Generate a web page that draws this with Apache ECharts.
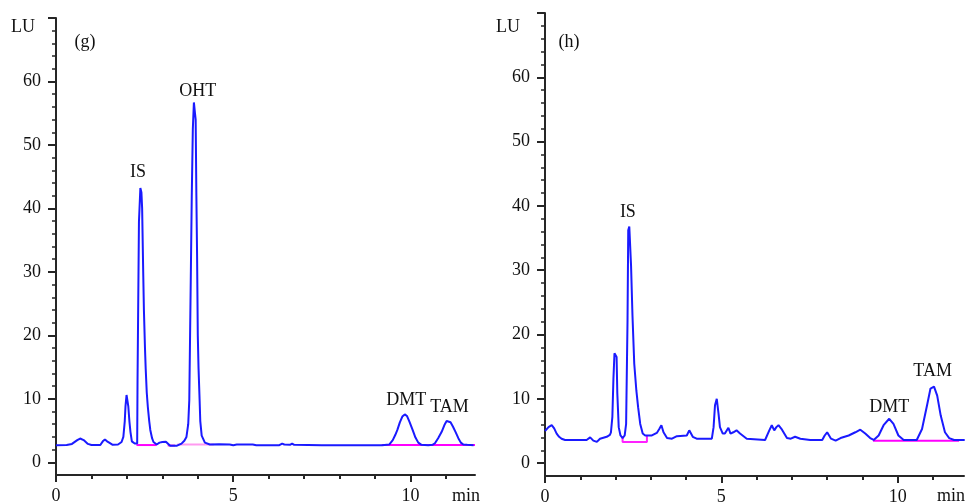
<!DOCTYPE html>
<html>
<head>
<meta charset="utf-8">
<script src="https://cdn.jsdelivr.net/npm/echarts@6/dist/echarts.min.js"></script>
<style>
  html, body { margin: 0; padding: 0; background: #ffffff; }
  #chart { width: 966px; height: 503px; }
</style>
</head>
<body>
<div id="chart"></div>
<script>
// ---------- DATA ----------
// Panel (g): chromatogram trace [time (min), signal (LU)]
var traceG = [
  [0.0,2.7],[0.3,2.72],[0.45,2.9],[0.6,3.5],[0.68,3.75],[0.78,3.5],[0.9,2.9],[1.0,2.72],
  [1.25,2.72],[1.32,3.3],[1.38,3.6],[1.44,3.3],[1.5,3.1],[1.6,2.75],[1.75,2.8],[1.85,3.2],
  [1.9,4.0],[1.94,6.5],[1.96,8.8],[1.99,10.6],[2.02,10.3],[2.04,8.8],[2.07,6.5],[2.10,4.8],
  [2.14,3.3],[2.22,2.95],[2.29,2.95],[2.30,12.9],[2.34,37.9],[2.38,43.2],[2.41,42.5],[2.43,40.0],
  [2.46,30],[2.48,24.0],[2.51,18],[2.53,14.8],[2.56,11],[2.59,8.75],[2.63,6.5],[2.66,5.1],
  [2.71,3.8],[2.75,3.2],[2.84,2.8],[2.92,3.1],[3.0,3.2],[3.05,3.1],[3.1,3.25],[3.15,2.95],
  [3.22,2.6],[3.40,2.6],[3.54,2.95],[3.62,3.4],[3.68,4.0],[3.73,6],[3.76,9.8],[3.80,28],
  [3.83,42],[3.86,52.5],[3.89,56.7],[3.92,55],[3.94,54],[3.96,42],[3.98,32.6],[4.00,20],
  [4.02,15],[4.05,10],[4.07,6.5],[4.11,4.2],[4.20,3.1],[4.34,2.8],[4.6,2.85],[4.9,2.8],
  [5.0,2.7],[5.05,2.6],[5.1,2.8],[5.3,2.8],[5.55,2.8],[5.65,2.7],[6.3,2.7],[6.38,2.95],
  [6.44,2.8],[6.6,2.75],[6.66,2.95],[6.72,2.75],[7.5,2.7],[8.5,2.7],[9.2,2.7],[9.4,2.8],
  [9.5,3.5],[9.57,4.3],[9.63,5.1],[9.7,6.3],[9.77,7.2],[9.84,7.55],[9.9,7.3],[9.97,6.4],
  [10.06,5.1],[10.14,3.9],[10.22,3.1],[10.31,2.75],[10.5,2.7],[10.62,2.75],[10.69,3.0],[10.78,3.8],
  [10.88,4.8],[10.96,5.9],[11.02,6.5],[11.07,6.65],[11.13,6.3],[11.2,5.6],[11.27,4.8],[11.35,3.8],
  [11.42,3.1],[11.49,2.8],[11.6,2.75],[11.78,2.7]
];
// Panel (h): chromatogram trace [time (min), signal (LU)]
var traceH = [
  [0.0,5.0],[0.1,5.6],[0.19,5.9],[0.26,5.4],[0.33,4.6],[0.40,4.1],[0.47,3.8],[0.57,3.6],
  [1.18,3.6],[1.23,3.8],[1.28,4.0],[1.33,3.8],[1.37,3.5],[1.47,3.3],[1.52,3.5],[1.56,3.8],
  [1.75,4.1],[1.84,4.4],[1.87,4.8],[1.91,7.2],[1.94,13.1],[1.97,17.1],[2.0,16.8],[2.03,16.5],
  [2.05,10.9],[2.09,5.6],[2.14,4.3],[2.20,3.9],[2.26,4.3],[2.30,6.1],[2.34,22.2],[2.36,36.2],
  [2.39,36.8],[2.41,36.7],[2.44,30.7],[2.48,23.0],[2.53,15.5],[2.59,11.3],[2.64,8.7],[2.70,6.1],
  [2.77,4.6],[2.84,4.3],[3.03,4.3],[3.17,4.7],[3.24,5.3],[3.30,5.9],[3.36,4.8],[3.46,3.9],
  [3.60,3.8],[3.74,4.2],[4.02,4.3],[4.09,5.1],[4.19,4.1],[4.30,3.8],[4.73,3.8],[4.78,5.6],
  [4.82,9.0],[4.87,10.0],[4.92,7.7],[4.96,5.6],[5.04,4.6],[5.10,4.6],[5.20,5.5],[5.26,4.6],
  [5.34,4.8],[5.43,5.1],[5.53,4.6],[5.72,3.8],[6.24,3.6],[6.36,5.1],[6.43,5.9],[6.50,5.1],
  [6.56,5.6],[6.62,5.9],[6.72,5.2],[6.86,3.9],[6.97,3.8],[7.09,4.1],[7.24,3.8],[7.52,3.6],
  [7.86,3.6],[7.93,4.3],[8.00,4.8],[8.11,3.8],[8.24,3.5],[8.38,3.9],[8.61,4.3],[8.80,4.8],
  [8.94,5.2],[9.08,4.6],[9.22,3.9],[9.32,3.6],[9.46,4.3],[9.60,5.9],[9.76,6.9],[9.88,6.1],
  [10.02,4.3],[10.17,3.6],[10.54,3.6],[10.69,5.3],[10.84,9.2],[10.93,11.6],[11.03,11.9],[11.12,10.5],
  [11.22,7.4],[11.34,4.8],[11.46,3.9],[11.60,3.6],[11.9,3.6]
];
// Integration baselines
var baselinesG = [
  [[2.27,2.72],[2.84,2.72]],
  [[3.15,2.65],[3.36,2.65]],
  [[3.42,2.8],[4.45,2.8]],
  [[9.19,2.72],[11.82,2.72]]
];
var baselinesH = [
  [[2.20,4.2],[2.20,3.3],[2.89,3.3],[2.89,4.3]],
  [[9.30,3.5],[11.74,3.5]]
];
// Peak labels
var peakNamesG = ["IS", "OHT", "DMT", "TAM"];
var peakTimesG = [2.31, 4.0, 9.88, 11.1];
var peakLabelYG = [45.7, 58.5, 9.7, 8.7];
var peakNamesH = ["IS", "DMT", "TAM"];
var peakTimesH = [2.35, 9.76, 10.99];
var peakLabelYH = [39, 8.7, 14.3];
// Tick labels
var xMajorTicks = [0, 5, 10];
var xMinorTicks = [1, 2, 3, 4, 6, 7, 8, 9, 11];
var yMajorTicks = [0, 10, 20, 30, 40, 50, 60, 70];
var yLabelTicks = [0, 10, 20, 30, 40, 50, 60];
var yMinorTicks = [2,4,6,8,12,14,16,18,22,24,26,28,32,34,36,38,42,44,46,48,52,54,56,58,62,64,66,68];

// ---------- STYLE ----------
var FONT = '"Liberation Serif", "DejaVu Serif", serif';
var AX = '#262626';
var TXT = '#111111';
var BLUE = '#1a1aff';
var XMAX = [11.82, 11.88];

var chart = echarts.init(document.getElementById('chart'), null, { renderer: 'canvas' });

function xMain(gi, xmax) {
  return {
    type: 'value', gridIndex: gi, position: 'bottom', min: 0, max: xmax,
    axisLine: { show: true, onZero: false, lineStyle: { color: AX, width: 2 } },
    axisTick: { show: true, customValues: xMajorTicks, length: 7, lineStyle: { color: AX, width: 2 } },
    axisLabel: { show: true, customValues: xMajorTicks, margin: 12, fontFamily: FONT, fontSize: 18, color: TXT },
    splitLine: { show: false }
  };
}
function xMinor(gi, xmax) {
  return {
    type: 'value', gridIndex: gi, position: 'bottom', min: 0, max: xmax,
    axisLine: { show: false, onZero: false },
    axisTick: { show: true, customValues: xMinorTicks, length: 4, lineStyle: { color: AX, width: 2 } },
    axisLabel: { show: false },
    splitLine: { show: false }
  };
}
function yMain(gi) {
  return {
    type: 'value', gridIndex: gi, position: 'left', min: -2, max: 70,
    axisLine: { show: true, onZero: false, lineStyle: { color: AX, width: 2 } },
    axisTick: { show: true, customValues: yMajorTicks, length: 8, lineStyle: { color: AX, width: 2 } },
    axisLabel: { show: true, customValues: yLabelTicks, margin: 15, fontFamily: FONT, fontSize: 18, color: TXT },
    splitLine: { show: false }
  };
}
function yMinor(gi) {
  return {
    type: 'value', gridIndex: gi, position: 'left', min: -2, max: 70,
    axisLine: { show: false, onZero: false },
    axisTick: { show: true, customValues: yMinorTicks, length: 4, lineStyle: { color: AX, width: 1.5 } },
    axisLabel: { show: false },
    splitLine: { show: false }
  };
}

var series = [];
function baselineSeries(segs, idx, colors) {
  segs.forEach(function (seg, i) {
    series.push({
      type: 'line', xAxisIndex: idx, yAxisIndex: idx, data: seg, showSymbol: false, silent: true,
      lineStyle: { color: colors[i % colors.length], width: 2 }, z: 2, animation: false
    });
  });
}
baselineSeries(baselinesG, 0, ['#ff00ff', '#ff33dd', '#ff99f0', '#ff00ff']);
baselineSeries(baselinesH, 1, ['#ff22ff', '#ff00ff']);

series.push({
  type: 'line', xAxisIndex: 0, yAxisIndex: 0, data: traceG, showSymbol: false,
  lineStyle: { color: BLUE, width: 2 }, z: 3, animation: false
});
series.push({
  type: 'line', xAxisIndex: 1, yAxisIndex: 1, data: traceH, showSymbol: false,
  lineStyle: { color: BLUE, width: 2 }, z: 3, animation: false
});

function labelSeries(names, times, ys, idx) {
  series.push({
    type: 'scatter', xAxisIndex: idx, yAxisIndex: idx, symbolSize: 0, silent: true, animation: false,
    itemStyle: { opacity: 1 },
    data: names.map(function (n, i) { return { value: [times[i], ys[i]], name: n }; }),
    label: {
      show: true, position: 'inside', formatter: '{b}', opacity: 1,
      fontFamily: FONT, fontSize: 18, color: TXT, textBorderWidth: 0
    },
    z: 5
  });
}
labelSeries(peakNamesG, peakTimesG, peakLabelYG, 0);
labelSeries(peakNamesH, peakTimesH, peakLabelYH, 1);

function txt(x, y, s) {
  return {
    type: 'text', x: x, y: y,
    style: { text: s, fontFamily: FONT, fontSize: 18, fill: TXT, align: 'center', verticalAlign: 'middle' }
  };
}

function mkGrid(l, t, w, h) {
  return { left: l, top: t, width: w, height: h, containLabel: false, outerBoundsMode: 'none' };
}

chart.setOption({
  backgroundColor: '#ffffff',
  animation: false,
  grid: [mkGrid(56, 18, 419, 457), mkGrid(545, 13, 419, 463), mkGrid(56, 18, 419, 457), mkGrid(545, 13, 419, 463)],
  xAxis: [xMain(0, XMAX[0]), xMain(1, XMAX[1]), xMinor(2, XMAX[0]), xMinor(3, XMAX[1])],
  yAxis: [yMain(0), yMain(1), yMinor(2), yMinor(3)],
  series: series,
  graphic: [
    txt(23, 27, 'LU'), txt(85, 42, '(g)'), txt(466, 496, 'min'),
    txt(508, 27, 'LU'), txt(569, 42, '(h)'), txt(951, 496, 'min')
  ]
});
</script>
</body>
</html>
